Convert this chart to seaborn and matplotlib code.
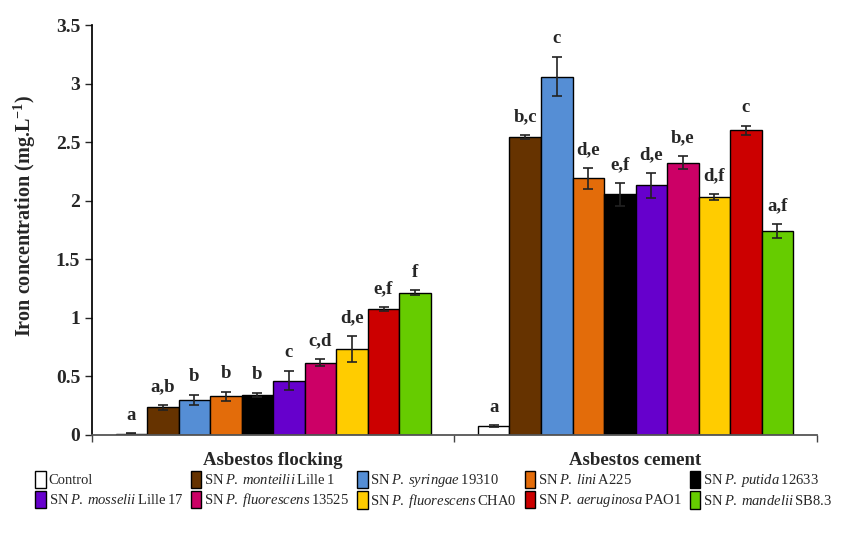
import matplotlib
matplotlib.use('Agg')
import matplotlib.pyplot as plt
import pandas as pd
import seaborn as sns
from matplotlib.ticker import FuncFormatter

# Data.
substrates = ['Asbestos flocking', 'Asbestos cement']
strains = ['Control', 'monteilii', 'syringae', 'lini', 'putida',
           'mosselii', 'fluorescens 13525', 'fluorescens CHA0',
           'aeruginosa', 'mandelii']
legend_labels = [
    'Control',
    r'$\mathrm{SN}\:\mathit{P.\:monteilii}\:\mathrm{Lille\:1}$',
    r'$\mathrm{SN}\:\mathit{P.\:syringae}\:\mathrm{19310}$',
    r'$\mathrm{SN}\:\mathit{P.\:lini}\:\mathrm{A225}$',
    r'$\mathrm{SN}\:\mathit{P.\:putida}\:\mathrm{12633}$',
    r'$\mathrm{SN}\:\mathit{P.\:mosselii}\:\mathrm{Lille\:17}$',
    r'$\mathrm{SN}\:\mathit{P.\:fluorescens}\:\mathrm{13525}$',
    r'$\mathrm{SN}\:\mathit{P.\:fluorescens}\:\mathrm{CHA0}$',
    r'$\mathrm{SN}\:\mathit{P.\:aeruginosa}\:\mathrm{PAO1}$',
    r'$\mathrm{SN}\:\mathit{P.\:mandelii}\:\mathrm{SB8.3}$',
]
colors = ['#FFFFFF', '#663300', '#558ED5', '#E36C0A', '#000000',
          '#6600CC', '#CC0066', '#FFCC00', '#CC0000', '#66CC00']

flocking_mean = [0.01, 0.235, 0.30, 0.33, 0.34, 0.465, 0.615, 0.735, 1.075, 1.215]
flocking_err = [0.003, 0.02, 0.045, 0.04, 0.02, 0.08, 0.03, 0.11, 0.015, 0.02]
flocking_letters = ['a', 'a,b', 'b', 'b', 'b', 'c', 'c,d', 'd,e', 'e,f', 'f']

cement_mean = [0.077, 2.545, 3.06, 2.19, 2.055, 2.13, 2.325, 2.03, 2.60, 1.745]
cement_err = [0.005, 0.015, 0.17, 0.09, 0.1, 0.11, 0.055, 0.025, 0.04, 0.06]
cement_letters = ['a', 'b,c', 'c', 'd,e', 'e,f', 'd,e', 'b,e', 'd,f', 'c', 'a,f']

df = pd.DataFrame({
    'substrate': [substrates[0]] * len(strains) + [substrates[1]] * len(strains),
    'strain': strains + strains,
    'value': flocking_mean + cement_mean,
})
errs = [flocking_err, cement_err]
letters = [flocking_letters, cement_letters]

sns.set_theme(style='ticks')
plt.rcParams['font.family'] = ['Liberation Serif', 'DejaVu Serif']
plt.rcParams['mathtext.fontset'] = 'custom'
plt.rcParams['mathtext.rm'] = 'Liberation Serif'
plt.rcParams['mathtext.it'] = 'Liberation Serif:italic'
plt.rcParams['mathtext.bf'] = 'Liberation Serif:bold'

fig, ax = plt.subplots(figsize=(8.68, 5.39), dpi=100)
fig.subplots_adjust(left=0.106, right=0.941, top=0.9536, bottom=0.193)

sns.barplot(data=df, x='substrate', y='value', hue='strain',
            order=substrates, hue_order=strains, palette=colors,
            saturation=1, width=0.87, gap=0, edgecolor='black',
            linewidth=1, errorbar=None, legend=False, ax=ax)
bar_containers = list(ax.containers)

# Error bars and significance letters on top of each bar.
for i, cont in enumerate(bar_containers):
    for j, bar in enumerate(cont.patches):
        xc = bar.get_x() + bar.get_width() / 2
        h = bar.get_height()
        e = errs[j][i]
        ax.errorbar(xc, h, yerr=e, color='#222222', capsize=3.5,
                    elinewidth=1.2, capthick=1.2, fmt='none')
        ax.annotate(letters[j][i], (xc, h + e), xytext=(0, 7),
                    textcoords='offset points', ha='center', va='bottom',
                    fontsize=13.5, fontweight='bold')

ax.set_ylim(0, 3.5)
ax.set_xlim(-0.5, 1.5)
ax.set_yticks([0, 0.5, 1, 1.5, 2, 2.5, 3, 3.5])
ax.yaxis.set_major_formatter(FuncFormatter(lambda v, p: f'{v:g}'))
ax.set_xticks([0, 1])
ax.set_xticklabels(substrates, fontsize=13.5, fontweight='bold')
ax.set_xticks([-0.5, 0.5, 1.5], minor=True)
ax.tick_params(axis='x', which='major', length=0, pad=12)
ax.tick_params(axis='x', which='minor', length=5, width=1, color='#444444')
ax.tick_params(axis='y', length=5, width=1, labelsize=14)
for lab in ax.get_yticklabels():
    lab.set_fontweight('bold')
ax.set_xlabel('')
ax.set_ylabel(r'Iron concentration (mg.L$^{\mathbf{-1}}$)', fontsize=14.5,
              fontweight='bold')
ax.yaxis.set_label_coords(-0.074, 0.535)
sns.despine()
ax.spines['left'].set_color('black')
ax.spines['bottom'].set_color('#555555')
ax.spines['bottom'].set_linewidth(1.3)

# Legend below the plot: two rows of five, filled row by row.
order = [0, 5, 1, 6, 2, 7, 3, 8, 4, 9]
handles = [bar_containers[k] for k in order]
labels = [legend_labels[k] for k in order]
fig.legend(handles, labels, ncol=5, loc='lower center',
           bbox_to_anchor=(0.5, 0.04), frameon=False, fontsize=10.5,
           handlelength=0.7, handleheight=1.5, handletextpad=0.2,
           columnspacing=0.55, labelspacing=0.15, borderpad=0)

plt.savefig('out.png', dpi=100)
